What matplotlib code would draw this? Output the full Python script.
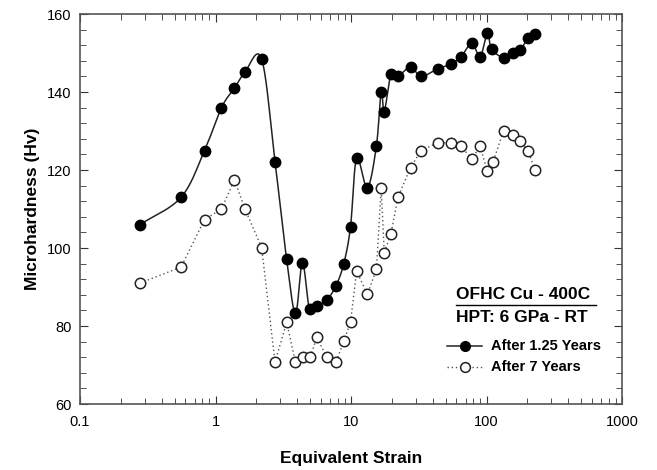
import numpy as np
import matplotlib
matplotlib.use("Agg")
import matplotlib.pyplot as plt
from matplotlib.ticker import MultipleLocator, LogLocator, FixedLocator, NullFormatter

plt.rcParams['font.family'] = ['Liberation Sans', 'DejaVu Sans']

# Datos
strain_125 = [0.277, 0.557, 0.83, 1.107, 1.38, 1.65, 2.19, 2.75, 3.35, 3.89, 4.38,
              4.94, 5.58, 6.61, 7.74, 8.85, 9.92, 11.0, 13.2, 15.4, 16.7, 17.6,
              19.7, 22.2, 27.5, 32.9, 43.9, 54.3, 65.0, 77.9, 89.8, 101.7, 109.0,
              135.4, 156.0, 178.0, 202.0, 228.0]
hv_125 = [106.0, 113.0, 125.0, 136.0, 141.0, 145.1, 148.5, 122.1, 97.1, 83.3, 96.2,
          84.3, 85.1, 86.6, 90.3, 96.0, 105.5, 123.0, 115.4, 126.2, 140.1, 135.0,
          144.5, 144.0, 146.4, 144.0, 146.0, 147.1, 149.1, 152.5, 149.1, 155.2, 151.0,
          148.7, 150.0, 150.8, 153.8, 154.8]

strain_7 = [0.277, 0.557, 0.83, 1.107, 1.38, 1.65, 2.19, 2.75, 3.35, 3.89, 4.43,
            5.02, 5.58, 6.61, 7.74, 8.85, 9.92, 11.0, 13.2, 15.4, 16.7, 17.6,
            19.7, 22.2, 27.5, 32.9, 43.9, 54.3, 65.0, 77.9, 89.8, 101.0, 112.0,
            133.6, 156.0, 178.0, 202.0, 228.0]
hv_7 = [91.0, 95.1, 107.3, 110.0, 117.5, 110.0, 100.1, 70.7, 81.0, 70.7, 72.1,
        72.1, 77.1, 72.1, 70.7, 76.1, 81.0, 94.1, 88.1, 94.5, 115.3, 98.8,
        103.6, 113.0, 120.6, 125.0, 127.0, 127.0, 126.1, 122.8, 126.1, 119.8, 122.1,
        130.1, 129.1, 127.5, 125.0, 120.0]

xticks = [0.1, 1, 10, 100, 1000]
xtick_labels = ['0.1', '1', '10', '100', '1000']
labels = ['After 1.25 Years', 'After 7 Years']


# Curva suave (Catmull-Rom en escala log) para la serie de 1.25 anios
def smooth_curve(xs, ys, n=20):
    lx = np.log10(np.asarray(xs, dtype=float))
    y = np.asarray(ys, dtype=float)
    P = np.column_stack([lx, y])
    P = np.vstack([2 * P[0] - P[1], P, 2 * P[-1] - P[-2]])
    out = []
    t = np.linspace(0, 1, n, endpoint=False)[:, None]
    for i in range(1, len(P) - 2):
        p0, p1, p2, p3 = P[i - 1], P[i], P[i + 1], P[i + 2]
        seg = 0.5 * ((2 * p1) + (-p0 + p2) * t +
                     (2 * p0 - 5 * p1 + 4 * p2 - p3) * t ** 2 +
                     (-p0 + 3 * p1 - 3 * p2 + p3) * t ** 3)
        out.append(seg)
    out.append(P[-2][None, :])
    out = np.vstack(out)
    return 10 ** out[:, 0], out[:, 1]


fig = plt.figure(figsize=(6.57, 4.70), dpi=100)
ax = fig.add_axes([80 / 657, 1 - 404 / 470, 542 / 657, 390 / 470])

filled = dict(ls='none', marker='o', ms=7.5, mfc='black', mec='black')
hollow = dict(ls='none', marker='o', ms=7.5, mfc='white', mec='#222222', mew=1.1)
solid_line = dict(color='#222222', lw=1.1)
dot_line = dict(color='#555555', lw=1.0, ls=(0, (1, 2)))

sx, sy = smooth_curve(strain_125, hv_125)
ax.plot(sx, sy, zorder=2, **solid_line)
ax.plot(strain_125, hv_125, zorder=4, **filled)

ax.plot(strain_7, hv_7, zorder=1, **dot_line)
ax.plot(strain_7, hv_7, zorder=3, **hollow)

ax.set_xscale('log')
ax.set_xlim(0.1, 1000)
ax.set_ylim(60, 160)
ax.xaxis.set_major_locator(FixedLocator(xticks))
ax.set_xticklabels(xtick_labels)
ax.xaxis.set_minor_locator(LogLocator(base=10, subs=np.arange(2, 10), numticks=20))
ax.xaxis.set_minor_formatter(NullFormatter())
ax.yaxis.set_major_locator(MultipleLocator(20))
ax.yaxis.set_minor_locator(MultipleLocator(4))

ax.tick_params(which='both', direction='in', top=True, right=True,
               labelsize=10.5, color='#333333')
ax.tick_params(axis='x', pad=8)
ax.tick_params(axis='y', pad=6)
ax.tick_params(which='major', length=6)
ax.tick_params(which='minor', length=4)
for s in ax.spines.values():
    s.set_color('#555555')
    s.set_linewidth(1.2)

ax.set_xlabel('Equivalent Strain', fontsize=12.5, fontweight='bold', labelpad=16)
ax.set_ylabel('Microhardness (Hv)', fontsize=12.5, fontweight='bold', labelpad=5)

# Texto y leyenda manual
tr = ax.transAxes
ax.text(0.694, 0.282, 'OFHC Cu - 400C', transform=tr, fontsize=12.5,
        fontweight='bold', ha='left', va='center')
ax.plot([0.694, 0.952], [0.253, 0.253], transform=tr, color='black', lw=1.0)
ax.text(0.694, 0.222, 'HPT: 6 GPa - RT', transform=tr, fontsize=12.5,
        fontweight='bold', ha='left', va='center')

rows = [0.149, 0.095]
styles = [(solid_line, filled), (dot_line, hollow)]
for yy, (ln, mk), lab in zip(rows, styles, labels):
    ax.plot([0.677, 0.742], [yy, yy], transform=tr, **ln)
    ax.plot([0.7095], [yy], transform=tr, **dict(mk, ms=7))
    ax.text(0.758, yy, lab, transform=tr, fontsize=10.5, fontweight='bold',
            ha='left', va='center')

fig.savefig('out.png', dpi=100)
